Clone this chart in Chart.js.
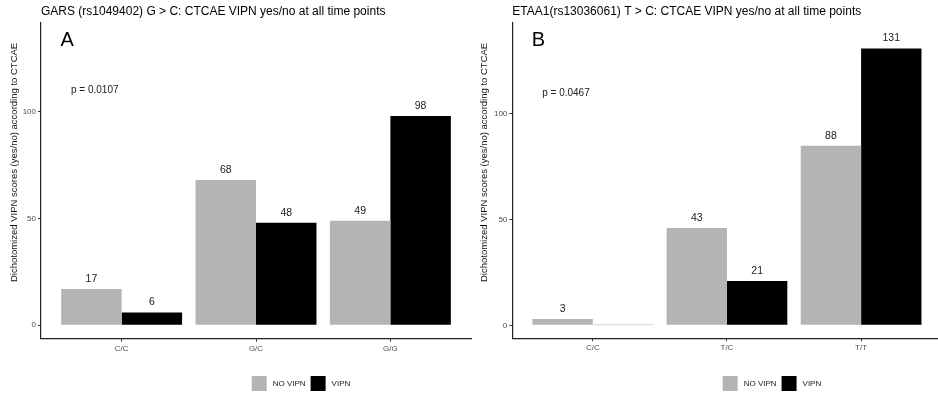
<!DOCTYPE html>
<html>
<head>
<meta charset="utf-8">
<script src="https://cdn.jsdelivr.net/npm/chart.js@4.4.1/dist/chart.umd.min.js"></script>
<style>
  html, body { margin: 0; padding: 0; background: #fff; overflow: hidden; }
  #wrap { position: relative; width: 938px; height: 398px; overflow: hidden; }
  .panel { position: absolute; top: 0; }
  #panelA { left: 0; }
  #panelB { left: 470px; }
</style>
</head>
<body>
<div id="wrap">
  <div class="panel" id="panelA"><canvas id="chartA" width="472" height="398"></canvas></div>
  <div class="panel" id="panelB"><canvas id="chartB" width="474" height="398"></canvas></div>
</div>
<script>
const seriesNames = ['NO VIPN', 'VIPN'];
const seriesColors = ['#b3b5b5', '#000000'];
const yTicks = [0, 50, 100];
const yTitle = 'Dichotomized VIPN scores (yes/no) according to CTCAE';

// panel A
const genotypesA = ['C/C', 'G/C', 'G/G'];
const noVipnA = [17, 68, 49];
const vipnA = [6, 48, 98];
const pValueA = 'p = 0.0107';

// panel B: bar heights as drawn, counts as printed above them
const genotypesB = ['C/C', 'T/C', 'T/T'];
const noVipnB = [3, 46, 85];
const vipnB = [0, 21, 131];
const noVipnLabelsB = [3, 43, 88];
const vipnLabelsB = [null, 21, 131];
const pValueB = 'p = 0.0467';

const FONT = '"Liberation Sans", Arial, sans-serif';

const decorations = {
  id: 'decorations',
  afterDatasetsDraw(chart, args, opts) {
    const ctx = chart.ctx;
    ctx.save();
    ctx.font = '10.5px ' + FONT;
    ctx.textAlign = 'center';
    ctx.textBaseline = 'middle';
    chart.data.datasets.forEach((ds, di) => {
      const meta = chart.getDatasetMeta(di);
      meta.data.forEach((bar, i) => {
        if (ds.data[i].y === 0) {
          ctx.strokeStyle = '#d6d6d6';
          ctx.lineWidth = 1;
          ctx.beginPath();
          ctx.moveTo(bar.x - bar.width / 2, bar.y - 0.5);
          ctx.lineTo(bar.x + bar.width / 2, bar.y - 0.5);
          ctx.stroke();
        }
        const label = opts.labels[di][i];
        if (label != null) {
          ctx.fillStyle = '#222';
          ctx.fillText(String(label), bar.x, bar.y - 10);
        }
      });
    });
    // p value annotation
    ctx.fillStyle = '#222';
    ctx.font = '10px ' + FONT;
    ctx.fillText(opts.pValue, chart.scales.x.getPixelForValue(0.8), chart.scales.y.getPixelForValue(110));
    ctx.restore();
  },
  afterDraw(chart, args, opts) {
    const ctx = chart.ctx;
    const area = chart.chartArea;
    ctx.save();
    ctx.fillStyle = '#000';
    ctx.textBaseline = 'middle';
    ctx.textAlign = 'left';
    ctx.font = '12px ' + FONT;
    ctx.fillText(opts.title, area.left, 12);
    ctx.font = '20px ' + FONT;
    ctx.fillText(opts.letter, area.left + 19.5, 40);

    // y axis title
    ctx.font = '9.5px ' + FONT;
    ctx.fillStyle = '#111';
    ctx.translate(14, 282);
    ctx.rotate(-Math.PI / 2);
    ctx.fillText(yTitle, 0, 0);
    ctx.setTransform(1, 0, 0, 1, 0, 0);

    // legend
    ctx.font = '8px ' + FONT;
    const box = 15, gapIn = 6, gapOut = 5;
    const widths = seriesNames.map(n => ctx.measureText(n).width);
    const total = widths.reduce((s, w) => s + box + gapIn + w, 0) + gapOut;
    let lx = (area.left + area.right) / 2 + 45 - total / 2;
    const ly = 376;
    seriesNames.forEach((name, i) => {
      ctx.fillStyle = seriesColors[i];
      ctx.fillRect(lx, ly, box, box);
      lx += box + gapIn;
      ctx.fillStyle = '#222';
      ctx.fillText(name, lx, ly + box / 2);
      lx += widths[i] + gapOut;
    });
    ctx.restore();
  }
};

function makeChart(id, cfg) {
  const datasets = cfg.series.map((vals, si) => ({
    label: seriesNames[si],
    data: cfg.categories.map((c, i) => ({ x: i + 1, y: vals[i] })),
    backgroundColor: seriesColors[si],
    borderWidth: 0,
    categoryPercentage: 0.9,
    barPercentage: 1.0
  }));

  return new Chart(document.getElementById(id), {
    type: 'bar',
    data: { datasets },
    plugins: [decorations],
    options: {
      responsive: false,
      animation: false,
      layout: { padding: { top: 22.5, right: cfg.padRight, bottom: cfg.padBottom, left: 0 } },
      scales: {
        x: {
          type: 'linear',
          min: 0.4,
          max: 3.6,
          offset: false,
          afterBuildTicks: scale => { scale.ticks = cfg.categories.map((c, i) => ({ value: i + 1 })); },
          afterFit: scale => { scale.height = 20; },
          ticks: {
            callback: v => cfg.categories[v - 1],
            font: { family: FONT, size: 8 },
            color: '#4d4d4d',
            padding: 2,
            maxRotation: 0
          },
          grid: { offset: false, drawOnChartArea: false, drawTicks: true, tickLength: 3, color: '#333' },
          border: { display: true, color: '#222', width: 1.2 }
        },
        y: {
          min: cfg.yMin,
          max: cfg.yMax,
          afterBuildTicks: scale => { scale.ticks = yTicks.map(v => ({ value: v })); },
          afterFit: scale => { scale.width = cfg.axisWidth; },
          ticks: {
            font: { family: FONT, size: 8 },
            color: '#4d4d4d',
            padding: 2
          },
          grid: { drawOnChartArea: false, drawTicks: true, tickLength: 3, color: '#333' },
          border: { display: true, color: '#222', width: 1.2 }
        }
      },
      plugins: {
        legend: { display: false },
        tooltip: { enabled: false },
        decorations: {
          title: cfg.title,
          letter: cfg.letter,
          labels: cfg.labels,
          pValue: cfg.pValue
        }
      }
    }
  });
}

makeChart('chartA', {
  title: 'GARS (rs1049402) G > C: CTCAE VIPN yes/no at all time points',
  letter: 'A',
  categories: genotypesA,
  series: [noVipnA, vipnA],
  labels: [noVipnA, vipnA],
  pValue: pValueA,
  yMin: -6.3,
  yMax: 141.8,
  axisWidth: 41,
  padRight: 1,
  padBottom: 398 - 338.7 - 20
});

makeChart('chartB', {
  title: 'ETAA1(rs13036061) T > C: CTCAE VIPN yes/no at all time points',
  letter: 'B',
  categories: genotypesB,
  series: [noVipnB, vipnB],
  labels: [noVipnLabelsB, vipnLabelsB],
  pValue: pValueB,
  yMin: -6.15,
  yMax: 143.3,
  axisWidth: 42.3,
  padRight: 2.4,
  padBottom: 398 - 338.3 - 20
});
</script>
</body>
</html>
